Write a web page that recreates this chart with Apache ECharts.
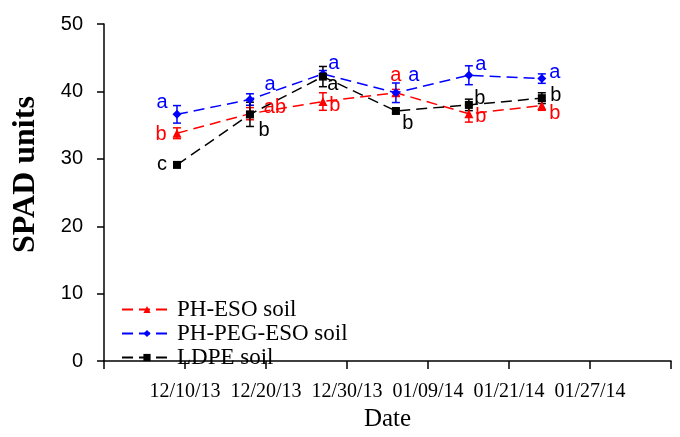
<!DOCTYPE html>
<html>
<head>
<meta charset="utf-8">
<script src="https://cdn.jsdelivr.net/npm/echarts@6/dist/echarts.min.js"></script>
<style>
  html, body { margin: 0; padding: 0; background: #fff; }
  #main { width: 680px; height: 437px; }
</style>
</head>
<body>
<div id="main"></div>
<script>
  // 采样日期
  var dates = ['12/10/13', '12/20/13', '12/30/13', '01/09/14', '01/21/14', '01/27/14'];

  // SPAD 值
  var phEso    = [33.8, 36.7, 38.5, 39.8, 36.7, 37.9];
  var phPegEso = [36.6, 38.8, 42.6, 39.8, 42.4, 41.9];
  var ldpe     = [29.1, 36.6, 42.2, 37.1, 38.0, 39.0];

  // 误差
  var phEsoErr    = [0.8, 0.9, 1.3, 0.5, 1.25, 0.7];
  var phPegEsoErr = [1.3, 0.85, 0.5, 1.45, 1.4, 0.7];
  var ldpeErr     = [0.3, 1.8, 1.5, 0.3, 0.85, 0.8];

  // 显著性字母
  var phEsoLetters    = ['b', 'ab', 'b', 'a', 'b', 'b'];
  var phPegEsoLetters = ['a', 'a', 'a', 'a', 'a', 'a'];
  var ldpeLetters     = ['c', 'b', 'a', 'b', 'b', 'b'];

  // 字母的位置 (样式)
  var phEsoLabelPos    = [[-16, 1], [25, -6], [12, 4], [0, -17], [12, 3], [13, 8]];
  var phPegEsoLabelPos = [[-15, -12], [20, -15], [11, -10], [18, -17], [12, -11], [13, -6]];
  var ldpeLabelPos     = [[-15, 0], [14, 16], [10, 8], [12, 13], [11, -6], [14, -3]];

  var red = '#ff0000', blue = '#0000ff', black = '#000000';

  function lineData(vals, letters, pos, color) {
    var arr = [];
    for (var i in vals) {
      arr.push({
        value: [Number(i), vals[i]],
        label: {
          show: true,
          formatter: letters[i],
          position: 'inside',
          offset: pos[i],
          color: color,
          fontFamily: 'Liberation Sans',
          fontSize: 20
        }
      });
    }
    return arr;
  }

  function errData(vals, errs) {
    var arr = [];
    for (var i in vals) {
      arr.push([Number(i), vals[i] - errs[i], vals[i] + errs[i]]);
    }
    return arr;
  }

  function errSeries(name, vals, errs, color) {
    return {
      name: name + '_err',
      type: 'custom',
      xAxisIndex: 1,
      z: 3,
      data: errData(vals, errs),
      renderItem: function(params, api) {
        var lo = api.coord([api.value(0), api.value(1)]);
        var hi = api.coord([api.value(0), api.value(2)]);
        var w = 4;
        var st = { stroke: color, lineWidth: 1.5 };
        return {
          type: 'group',
          children: [
            { type: 'line', shape: { x1: lo[0], y1: lo[1], x2: hi[0], y2: hi[1] }, style: st },
            { type: 'line', shape: { x1: lo[0] - w, y1: lo[1], x2: lo[0] + w, y2: lo[1] }, style: st },
            { type: 'line', shape: { x1: hi[0] - w, y1: hi[1], x2: hi[0] + w, y2: hi[1] }, style: st }
          ]
        };
      }
    };
  }

  function lineSeries(name, vals, letters, pos, color, symbol, size) {
    return {
      name: name,
      type: 'line',
      xAxisIndex: 1,
      z: 4,
      data: lineData(vals, letters, pos, color),
      symbol: symbol,
      symbolSize: size,
      showAllSymbol: true,
      itemStyle: { color: color },
      lineStyle: { color: color, width: 1.5, type: [11, 6] }
    };
  }

  var dom = document.getElementById('main');
  var myChart = echarts.init(dom);
  var option = {
    animation: false,
    backgroundColor: '#fff',
    grid: { left: 104, right: 9, top: 24, bottom: 70 },
    legend: {
      orient: 'vertical',
      left: 116,
      top: 293,
      itemGap: 1,
      itemWidth: 50,
      itemHeight: 9,
      data: ['PH-ESO soil', 'PH-PEG-ESO soil', 'LDPE soil'],
      textStyle: { fontFamily: 'Liberation Serif', fontSize: 23, color: '#000' }
    },
    xAxis: [
      {
        type: 'value',
        min: 0,
        max: 7,
        interval: 1,
        name: 'Date',
        nameLocation: 'middle',
        nameGap: 45,
        nameTextStyle: { fontFamily: 'Liberation Serif', fontSize: 25, color: '#000' },
        axisLine: { lineStyle: { color: '#000', width: 1.5 } },
        axisTick: { inside: false, length: 8, lineStyle: { color: '#000', width: 1.5 } },
        splitLine: { show: false },
        axisLabel: {
          margin: 21,
          color: '#000',
          fontFamily: 'Liberation Serif',
          fontSize: 20,
          showMinLabel: true,
          showMaxLabel: true,
          formatter: function(v) {
            return dates[v - 1] || '';
          }
        }
      },
      {
        type: 'value',
        min: -1,
        max: 6.77,
        show: false,
        splitLine: { show: false }
      }
    ],
    yAxis: {
      type: 'value',
      min: 0,
      max: 50,
      interval: 10,
      name: 'SPAD units',
      nameLocation: 'middle',
      nameRotate: 90,
      nameGap: 62,
      nameTextStyle: {
        fontFamily: 'Liberation Serif', fontSize: 32, fontWeight: 'bold', color: '#000',
        padding: [0, 0, 0, 36]
      },
      axisLine: { show: true, lineStyle: { color: '#000', width: 1.5 } },
      axisTick: { show: true, inside: false, length: 7, lineStyle: { color: '#000', width: 1.5 } },
      splitLine: { show: false },
      axisLabel: { margin: 21, color: '#000', fontFamily: 'Liberation Sans', fontSize: 20 }
    },
    series: [
      errSeries('PH-ESO soil', phEso, phEsoErr, red),
      errSeries('PH-PEG-ESO soil', phPegEso, phPegEsoErr, blue),
      errSeries('LDPE soil', ldpe, ldpeErr, black),
      lineSeries('PH-ESO soil', phEso, phEsoLetters, phEsoLabelPos, red, 'triangle', 9),
      lineSeries('PH-PEG-ESO soil', phPegEso, phPegEsoLetters, phPegEsoLabelPos, blue, 'diamond', 9),
      lineSeries('LDPE soil', ldpe, ldpeLetters, ldpeLabelPos, black, 'rect', 8)
    ]
  };
  if (option && typeof option === 'object') {
    myChart.setOption(option, true);
  }
</script>
</body>
</html>
